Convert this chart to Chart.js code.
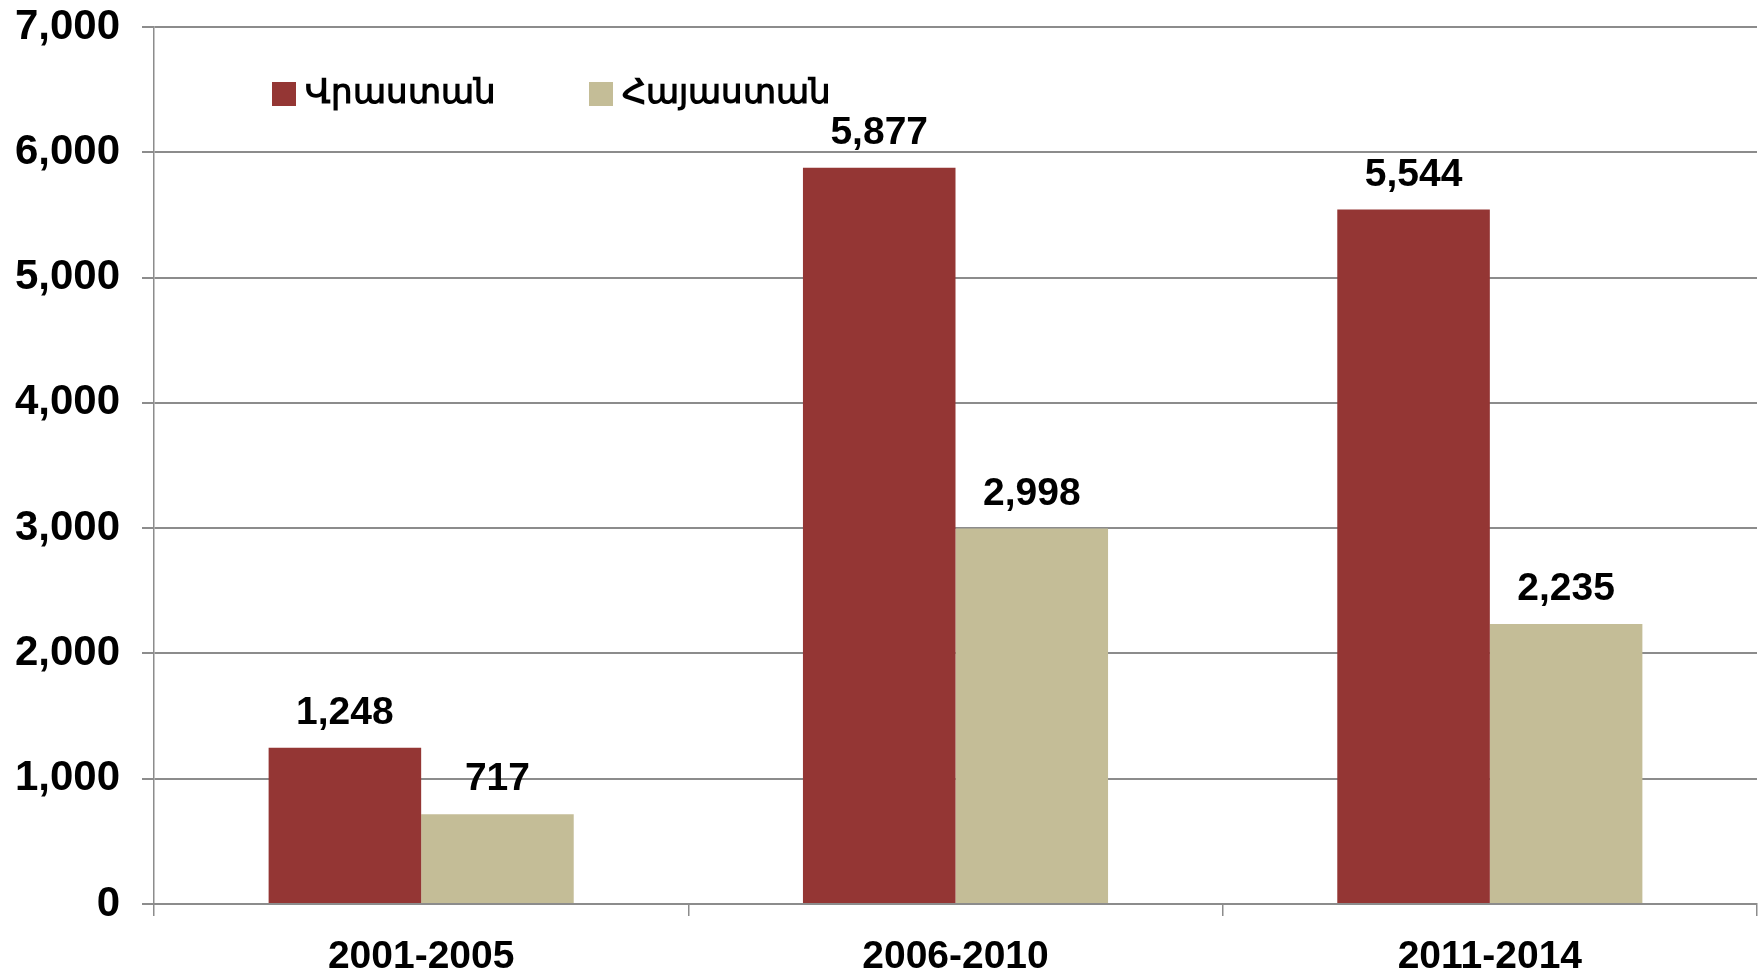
<!DOCTYPE html>
<html>
<head>
<meta charset="utf-8">
<script src="https://cdn.jsdelivr.net/npm/chart.js@4"></script>
<style>
  html, body { margin: 0; padding: 0; background: #fff; }
  #wrap { width: 1760px; height: 976px; }
</style>
</head>
<body>
<div id="wrap"><canvas id="chart" width="1760" height="976"></canvas></div>
<script>
// chart data
const periods = ['2001-2005', '2006-2010', '2011-2014'];
const seriesNames = ['Վրաստան', 'Հայաստան'];
const georgia = [1248, 5877, 5544];
const armenia = [717, 2998, 2235];
const yTicks = [0, 1000, 2000, 3000, 4000, 5000, 6000, 7000];

const FONT = '"Liberation Sans", "Noto Sans", Arial, sans-serif';
const colors = ['#943634', '#C4BD97'];
const gridColor = '#8c8c8c';

// value labels above each bar
const valueLabels = {
    id: 'valueLabels',
    afterDatasetsDraw(chart) {
        const ctx = chart.ctx;
        ctx.save();
        ctx.font = 'bold 39px ' + FONT;
        ctx.fillStyle = '#000';
        ctx.textAlign = 'center';
        ctx.textBaseline = 'bottom';
        chart.data.datasets.forEach((ds, i) => {
            chart.getDatasetMeta(i).data.forEach((bar, j) => {
                ctx.fillText(ds.data[j].toLocaleString('en-US'), bar.x, bar.y - 15);
            });
        });
        ctx.restore();
    }
};

// legend drawn inside the plot area
const innerLegend = {
    id: 'innerLegend',
    afterDraw(chart) {
        const ctx = chart.ctx;
        const xs = [272, 589];
        const yMid = 94;
        ctx.save();
        ctx.font = 'bold 34px ' + FONT;
        ctx.textBaseline = 'middle';
        chart.data.datasets.forEach((ds, i) => {
            ctx.fillStyle = ds.backgroundColor;
            ctx.fillRect(xs[i], yMid - 12, 24, 24);
            ctx.fillStyle = '#000';
            ctx.fillText(ds.label, xs[i] + 33, yMid);
        });
        ctx.restore();
    }
};

new Chart(document.getElementById('chart'), {
    type: 'bar',
    data: {
        labels: periods,
        datasets: [
            { label: seriesNames[0], data: georgia, backgroundColor: colors[0] },
            { label: seriesNames[1], data: armenia, backgroundColor: colors[1] }
        ]
    },
    options: {
        responsive: false,
        animation: false,
        categoryPercentage: 0.571,
        barPercentage: 1.0,
        layout: { padding: { top: 27, right: 3, left: 0, bottom: 0 } },
        plugins: {
            legend: { display: false },
            tooltip: { enabled: false }
        },
        scales: {
            x: {
                grid: {
                    offset: true,
                    drawOnChartArea: false,
                    drawTicks: true,
                    tickLength: 12,
                    color: gridColor,
                    lineWidth: 1.5
                },
                border: { color: gridColor, width: 2 },
                ticks: {
                    color: '#000',
                    font: { family: FONT, size: 39, weight: 'bold' },
                    padding: 18
                },
                afterFit(scale) { scale.height = 72; }
            },
            y: {
                min: 0,
                max: yTicks[yTicks.length - 1],
                afterBuildTicks(scale) {
                    scale.ticks = yTicks.map(v => ({ value: v }));
                },
                grid: {
                    color: gridColor,
                    lineWidth: 2,
                    tickLength: 12
                },
                border: { color: gridColor, width: 1.5 },
                ticks: {
                    color: '#000',
                    font: { family: FONT, size: 42, weight: 'bold' },
                    padding: 22,
                    callback: v => v.toLocaleString('en-US')
                },
                afterFit(scale) {
                    scale.width = 154;
                    scale.paddingTop = 0;
                    scale.paddingBottom = 0;
                }
            }
        }
    },
    plugins: [valueLabels, innerLegend]
});
</script>
</body>
</html>
